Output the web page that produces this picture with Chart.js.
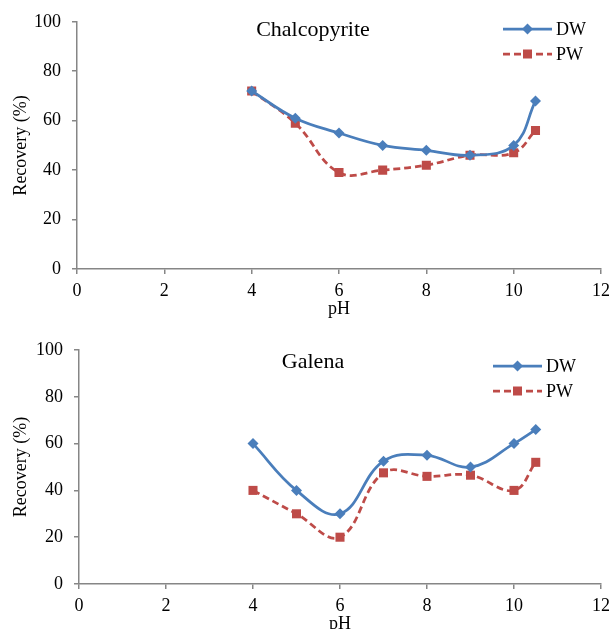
<!DOCTYPE html>
<html>
<head>
<meta charset="utf-8">
<script src="https://cdn.jsdelivr.net/npm/chart.js@4"></script>
<style>
  html, body { margin: 0; padding: 0; background: #fff; }
  #wrap { position: relative; width: 611px; height: 629px; overflow: hidden; }
  canvas { position: absolute; left: 0; }
  #chalcoChart { top: 0; }
  #galenaChart { top: 320px; }
</style>
</head>
<body>
<div id="wrap">
  <canvas id="chalcoChart" width="611" height="320"></canvas>
  <canvas id="galenaChart" width="611" height="320"></canvas>
</div>
<script>
const pH = [4, 5, 6, 7, 8, 9, 10, 10.5];
const chalcoDW = [72, 61, 55, 50, 48, 46, 50, 68];
const chalcoPW = [72, 59, 39, 40, 42, 46, 47, 56];
const galenaDW = [60, 40, 30, 52.5, 55, 50, 60, 66];
const galenaPW = [40, 30, 20, 47.5, 46, 46.5, 40, 52];
const seriesNames = ["DW", "PW"];
const xTicks = [0, 2, 4, 6, 8, 10, 12];
const yTicks = [0, 20, 40, 60, 80, 100];

const FONT = "'Liberation Serif', 'Times New Roman', serif";
const BLUE = "#4a7ebb";
const RED = "#be4b48";
const AXIS = "#868686";

function toPoints(values) {
  return pH.map((x, i) => ({ x: x, y: values[i] }));
}

// draws the mineral name and the Excel-like legend inside the plot
const labelsPlugin = {
  id: "labels",
  afterDraw(chart, args, opts) {
    const ctx = chart.ctx;
    ctx.save();
    ctx.fillStyle = "#000";
    ctx.textBaseline = "middle";
    ctx.font = "22px " + FONT;
    ctx.textAlign = "center";
    ctx.fillText(opts.title, opts.titleX, opts.titleY);

    ctx.font = "18px " + FONT;
    ctx.textAlign = "left";
    chart.data.datasets.forEach((ds, i) => {
      const y = opts.legendY + i * opts.legendGap;
      const x0 = opts.legendX;
      const x1 = x0 + 49;
      ctx.strokeStyle = ds.borderColor;
      ctx.lineWidth = ds.borderWidth;
      ctx.setLineDash(ds.borderDash || []);
      ctx.beginPath();
      ctx.moveTo(x0, y);
      ctx.lineTo(x1, y);
      ctx.stroke();
      ctx.setLineDash([]);
      ctx.fillStyle = ds.backgroundColor;
      const m = (x0 + x1) / 2;
      ctx.beginPath();
      if (ds.pointStyle === "rectRot") {
        ctx.moveTo(m, y - 5.5);
        ctx.lineTo(m + 5.5, y);
        ctx.lineTo(m, y + 5.5);
        ctx.lineTo(m - 5.5, y);
        ctx.closePath();
      } else {
        ctx.rect(m - 4.5, y - 4.5, 9, 9);
      }
      ctx.fill();
      ctx.fillStyle = "#000";
      ctx.fillText(ds.label, x1 + 4, y + 1);
    });
    ctx.restore();
  },
};

function makeChart(id, title, dw, pw, lay) {
  const ctx = document.getElementById(id).getContext("2d");
  return new Chart(ctx, {
    type: "line",
    data: {
      datasets: [
        {
          label: seriesNames[0],
          data: toPoints(dw),
          borderColor: BLUE,
          backgroundColor: BLUE,
          borderWidth: 2.75,
          pointStyle: "rectRot",
          pointRadius: 5.5,
          pointBorderWidth: 0,
          tension: 0.4,
        },
        {
          label: seriesNames[1],
          data: toPoints(pw),
          borderColor: RED,
          backgroundColor: RED,
          borderWidth: 2.75,
          borderDash: [7, 4],
          pointStyle: "rect",
          pointRadius: 6.4,
          pointBorderWidth: 0,
          tension: 0.4,
        },
      ],
    },
    options: {
      responsive: false,
      animation: false,
      layout: { padding: { left: 0, top: lay.top, right: 10, bottom: 0 } },
      plugins: {
        legend: { display: false },
        tooltip: { enabled: false },
        labels: {
          title: title,
          titleX: 313,
          titleY: lay.titleY,
          legendX: lay.legendX,
          legendY: lay.legendY,
          legendGap: 25,
        },
      },
      scales: {
        x: {
          type: "linear",
          min: 0,
          max: 12,
          afterBuildTicks: (s) => { s.ticks = xTicks.map((v) => ({ value: v })); },
          afterFit: (s) => {
            s.height = lay.xHeight;
            s.paddingLeft = 0;
            s.paddingRight = 0;
          },
          border: { color: AXIS, width: 1.5 },
          grid: { drawOnChartArea: false, drawTicks: true, tickLength: 5, color: AXIS, lineWidth: 1.5 },
          ticks: { color: "#000", padding: 6, font: { family: FONT, size: 18 } },
          title: {
            display: true,
            text: "pH",
            color: "#000",
            padding: { top: 0, bottom: lay.xTitlePad },
            font: { family: FONT, size: 18 },
          },
        },
        y: {
          min: 0,
          max: 100,
          afterBuildTicks: (s) => { s.ticks = yTicks.map((v) => ({ value: v })); },
          afterFit: (s) => { s.width = lay.yWidth; },
          border: { color: AXIS, width: 1.5 },
          grid: { drawOnChartArea: false, drawTicks: true, tickLength: 5, color: AXIS, lineWidth: 1.5 },
          ticks: { color: "#000", padding: 11, font: { family: FONT, size: 18 } },
          title: {
            display: true,
            text: "Recovery (%)",
            color: "#000",
            padding: { top: 10, bottom: 0 },
            font: { family: FONT, size: 18 },
          },
        },
      },
    },
    plugins: [labelsPlugin],
  });
}

makeChart("chalcoChart", "Chalcopyrite", chalcoDW, chalcoPW, {
  top: 20, yWidth: 77, xHeight: 51, xTitlePad: 0,
  titleY: 30, legendX: 503, legendY: 29,
});
makeChart("galenaChart", "Galena", galenaDW, galenaPW, {
  top: 30, yWidth: 79, xHeight: 56, xTitlePad: 5,
  titleY: 42, legendX: 493, legendY: 46,
});
</script>
</body>
</html>
